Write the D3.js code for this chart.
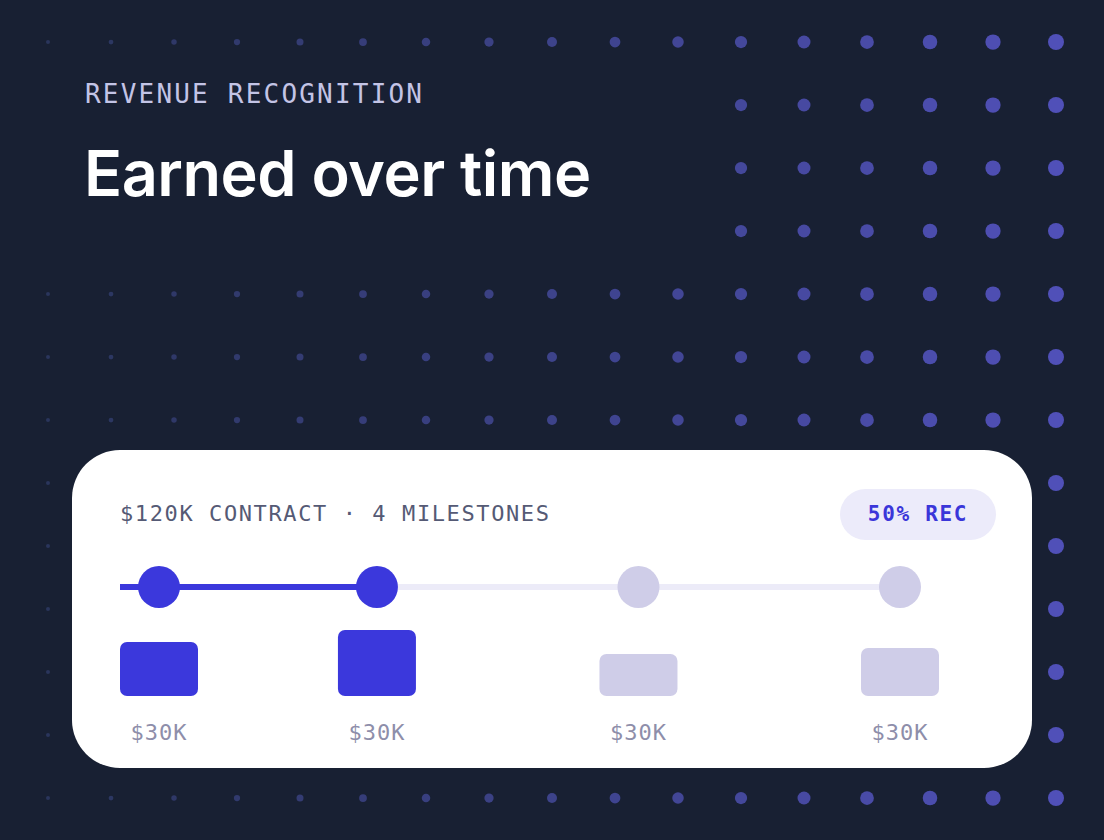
<!DOCTYPE html>
<html><head><meta charset="utf-8">
<script src="https://cdn.jsdelivr.net/npm/d3@7"></script>
<style>html,body{margin:0;padding:0;background:#182033;}</style>
</head><body>
<svg id="c" width="1104" height="840"></svg>
<script>
const milestones = ["M1","M2","M3","M4"];
const months = [1, 3.5, 6.5, 9.5];
const amounts = ["$30K","$30K","$30K","$30K"];
const barWeights = [9, 11, 7, 8];
const recognized = [true, true, false, false];
const dotCols = d3.range(17);
const dotRows = d3.range(13);

const svg = d3.select("#c");
svg.append("rect").attr("width",1104).attr("height",840).attr("fill","#182033");

const gx = d3.scaleLinear().domain([0,16]).range([48,1056]);
const gy = d3.scaleLinear().domain([0,12]).range([42,798]);
const gr = d3.scaleLinear().domain([0,16]).range([2,8]);
const gc = d3.scaleLinear().domain([0,16]).range(["#2a355c","#5050b8"]);
const dots = [];
dotRows.forEach(r=>dotCols.forEach(c=>{ if(r>=1&&r<=3&&c<11) return; dots.push({r,c}); }));
svg.append("g").selectAll("circle").data(dots).join("circle")
  .attr("cx",d=>gx(d.c)).attr("cy",d=>gy(d.r)).attr("r",d=>gr(d.c)).attr("fill",d=>gc(d.c));

svg.append("text").attr("x",85).attr("y",103).text("REVENUE RECOGNITION")
  .attr("font-family","DejaVu Sans Mono, monospace").attr("font-size",26).attr("letter-spacing",2.2).attr("fill","#c3c4e6");
svg.append("text").attr("x",84).attr("y",196).text("Earned over time")
  .attr("font-family","Inter, Lato, sans-serif").attr("font-weight",600).attr("font-size",63)
  .attr("letter-spacing",-0.5).attr("fill","#ffffff");

svg.append("rect").attr("x",72).attr("y",450).attr("width",960).attr("height",318).attr("rx",48).attr("fill","#ffffff");
svg.append("text").attr("x",120).attr("y",521).text("$120K CONTRACT · 4 MILESTONES")
  .attr("font-family","DejaVu Sans Mono, monospace").attr("font-size",22).attr("fill","#555a75").attr("letter-spacing",1.6);
svg.append("rect").attr("x",840).attr("y",489).attr("width",156).attr("height",51).attr("rx",25.5).attr("fill","#ecebfa");
svg.append("text").attr("x",918).attr("y",521).attr("text-anchor","middle").text("50% REC")
  .attr("font-family","DejaVu Sans Mono, monospace").attr("font-weight","bold").attr("font-size",21)
  .attr("letter-spacing",1.7).attr("fill","#3a36d9");

const x = d3.scaleLinear().domain([1,9.5]).range([159,900]);
const lineY = 587;
const blue = "#3b38dc", light = "#cfcde8";
svg.append("line").attr("x1",120).attr("x2",x(months[3])).attr("y1",lineY).attr("y2",lineY)
  .attr("stroke","#ecebf8").attr("stroke-width",6);
const lastRec = d3.max(months.filter((m,i)=>recognized[i]));
svg.append("line").attr("x1",120).attr("x2",x(lastRec)).attr("y1",lineY).attr("y2",lineY)
  .attr("stroke",blue).attr("stroke-width",6);
svg.append("g").selectAll("circle").data(months).join("circle")
  .attr("cx",d=>x(d)).attr("cy",lineY).attr("r",21).attr("fill",(d,i)=>recognized[i]?blue:light);

const h = d3.scaleLinear().domain([0,11]).range([0,66]);
const base = 696;
svg.append("g").selectAll("rect").data(barWeights).join("rect")
  .attr("x",(d,i)=>x(months[i])-39).attr("width",78)
  .attr("y",d=>base-h(d)).attr("height",d=>h(d)).attr("rx",7)
  .attr("fill",(d,i)=>recognized[i]?blue:light);
svg.append("g").selectAll("text").data(amounts).join("text")
  .attr("x",(d,i)=>x(months[i])).attr("y",740).attr("text-anchor","middle").text(d=>d)
  .attr("font-family","DejaVu Sans Mono, monospace").attr("font-size",22).attr("letter-spacing",1).attr("fill","#8e8eaa");
</script>
</body></html>
